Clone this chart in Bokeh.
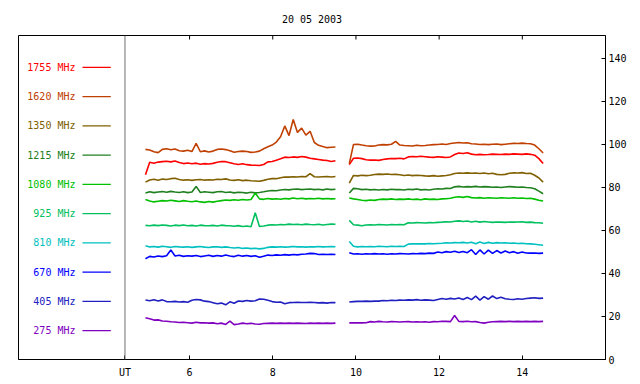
import numpy as np
from bokeh.plotting import figure
from bokeh.models import Range1d, FixedTicker, Span
from bokeh.core.properties import value
from bokeh.embed import file_html
from bokeh.resources import INLINE

title_text = "20 05 2003"
channels = ["1755 MHz", "1620 MHz", "1350 MHz", "1215 MHz", "1080 MHz",
            "925 MHz", "810 MHz", "670 MHz", "405 MHz", "275 MHz"]
colors = ["#ff0000", "#c04000", "#806000", "#208020", "#00c000",
          "#00c060", "#00c0c0", "#0000ff", "#2020c0", "#8000c0"]

# sample times (UT hours) of the two recording blocks
t_a = np.linspace(4.94, 9.507, 46)
t_b = np.linspace(9.84, 14.5, 47)

x_ticks = [6, 8, 10, 12, 14]
y_ticks = [0, 20, 40, 60, 80, 100, 120, 140]
ut_mark = 4.447

f1755_a = [85.8, 91.6, 91.2, 91.7, 91.9, 92.1, 91.8, 92.2, 91.5, 91.0, 91.3, 90.9, 91.2, 90.7, 91.0, 90.8,
           91.1, 91.6, 92.0, 91.9, 91.4, 90.9, 90.6, 90.9, 90.5, 90.3, 90.2, 90.1, 90.6, 91.8, 92.0, 92.6,
           93.2, 94.0, 93.8, 94.1, 93.9, 94.3, 94.0, 93.5, 93.2, 92.9, 92.6, 92.4, 92.0, 92.3]
f1755_b = [90.5, 93.5, 93.6, 93.3, 92.8, 92.6, 92.7, 92.5, 92.9, 93.2, 93.4, 93.3, 93.5, 93.2, 94.1, 94.3,
           94.2, 94.4, 94.2, 94.0, 93.9, 94.2, 94.0, 93.8, 94.1, 95.2, 95.9, 95.7, 96.0, 95.4, 95.1, 95.3,
           95.1, 95.2, 95.4, 95.3, 95.2, 95.4, 95.3, 95.5, 95.4, 95.3, 95.5, 95.3, 94.9, 93.3, 91.0]
f1620_a = [97.6, 97.3, 96.5, 96.1, 97.6, 97.9, 97.4, 97.8, 97.0, 96.8, 97.2, 96.6, 100.4, 96.5, 96.9, 96.4,
           96.8, 97.6, 97.8, 97.5, 97.0, 96.3, 96.6, 96.8, 96.6, 96.2, 96.4, 96.8, 97.9, 98.8, 99.6, 101.0,
           103.5, 108.5, 104.0, 111.5, 105.5, 107.5, 104.2, 106.0, 100.8, 99.5, 98.9, 98.4, 98.6, 98.7]
f1620_b = [91.0, 99.9, 100.0, 99.6, 99.3, 99.1, 99.2, 99.6, 99.8, 99.7, 100.0, 101.3, 99.6, 99.4, 99.3, 99.2,
           99.5, 99.3, 99.4, 99.6, 99.8, 99.9, 100.1, 99.9, 100.3, 100.6, 100.8, 100.6, 100.7, 100.2, 100.1, 99.9,
           100.0, 99.8, 100.0, 100.1, 99.8, 100.0, 100.2, 100.4, 100.3, 100.5, 100.3, 100.2, 99.6, 97.9, 95.9]
f1350_a = [82.4, 83.4, 83.7, 83.3, 83.8, 83.6, 84.0, 84.2, 83.6, 83.3, 83.5, 83.2, 83.5, 83.6, 83.3, 83.5,
           83.4, 83.7, 83.6, 83.9, 83.4, 83.2, 83.5, 83.1, 83.3, 83.0, 82.9, 82.8, 83.2, 83.7, 84.0, 84.0,
           84.4, 84.8, 84.7, 84.9, 84.8, 85.0, 84.9, 86.3, 84.9, 84.8, 84.9, 85.0, 84.8, 85.0]
f1350_b = [81.9, 85.5, 85.3, 85.6, 85.4, 85.6, 85.9, 86.1, 86.0, 86.2, 85.9, 86.0, 85.8, 85.5, 85.7, 85.4,
           85.6, 85.5, 85.3, 85.2, 85.4, 85.1, 85.3, 85.5, 85.8, 86.4, 86.6, 86.5, 86.7, 86.5, 86.6, 86.4,
           86.6, 86.3, 86.5, 86.0, 85.8, 86.0, 86.5, 86.7, 86.6, 86.8, 86.4, 86.5, 85.6, 84.3, 82.4]
f1215_a = [77.3, 77.9, 77.5, 77.8, 78.0, 77.7, 78.1, 77.8, 77.6, 77.9, 77.5, 77.8, 80.4, 77.6, 77.9, 77.7,
           77.5, 77.9, 78.0, 77.6, 77.8, 77.4, 77.7, 77.6, 77.3, 77.7, 77.4, 77.6, 77.9, 78.3, 78.5, 78.4,
           78.7, 79.0, 78.8, 79.1, 79.2, 78.9, 79.1, 79.2, 78.9, 79.1, 78.8, 79.2, 78.9, 79.1]
f1215_b = [77.3, 79.5, 79.3, 78.9, 79.1, 78.8, 79.0, 78.7, 79.0, 78.8, 79.1, 78.9, 79.0, 78.7, 79.1, 78.9,
           79.2, 78.8, 79.0, 78.7, 79.1, 79.3, 79.2, 79.5, 79.4, 80.2, 80.4, 80.1, 80.3, 80.2, 80.4, 80.1,
           80.3, 80.2, 80.0, 80.1, 79.9, 80.1, 80.3, 80.2, 80.0, 80.1, 79.9, 79.8, 79.3, 78.2, 77.0]
f1080_a = [74.3, 73.6, 73.2, 73.5, 73.8, 73.6, 74.0, 73.7, 73.4, 73.8, 73.5, 73.3, 73.6, 73.2, 73.0, 73.4,
           73.1, 73.5, 73.8, 74.1, 73.9, 74.2, 74.0, 74.3, 74.1, 74.3, 77.3, 74.6, 74.4, 74.8, 74.5, 74.7,
           74.4, 74.8, 74.6, 75.0, 74.7, 74.9, 74.6, 74.8, 74.7, 74.9, 74.6, 74.8, 74.6, 74.7]
f1080_b = [75.0, 74.6, 74.3, 74.0, 73.8, 74.1, 73.9, 74.3, 74.5, 74.4, 74.6, 74.3, 74.5, 74.4, 74.6, 74.3,
           74.5, 74.2, 74.6, 74.4, 74.5, 74.3, 74.6, 74.7, 74.9, 75.4, 75.6, 75.3, 75.7, 75.2, 75.0, 75.2,
           74.9, 75.1, 75.0, 74.9, 75.1, 75.0, 74.9, 75.1, 74.9, 75.0, 74.8, 74.9, 74.5, 74.0, 73.6]
f925_a = [62.3, 62.1, 62.4, 62.2, 62.5, 62.3, 62.0, 62.4, 62.2, 62.5, 62.1, 62.3, 62.0, 62.4, 62.2, 62.1,
          62.3, 62.0, 62.4, 62.2, 62.1, 61.9, 62.2, 61.8, 62.0, 61.7, 68.2, 61.8, 62.0, 62.4, 62.6, 62.5,
          62.7, 62.6, 62.9, 62.7, 62.8, 62.6, 62.9, 62.7, 62.6, 62.8, 62.5, 62.7, 62.9, 62.8]
f925_b = [64.6, 62.6, 62.4, 62.1, 62.5, 62.6, 62.5, 62.7, 62.6, 62.5, 62.7, 62.6, 62.7, 62.6, 63.5, 63.4,
          63.6, 63.5, 63.4, 63.6, 63.5, 63.7, 63.8, 64.0, 63.9, 64.2, 64.4, 64.1, 64.3, 63.9, 64.2, 63.8,
          64.1, 63.9, 63.7, 63.9, 63.8, 63.7, 63.9, 63.8, 63.9, 64.0, 63.7, 63.8, 63.6, 63.5, 63.3]
f810_a = [52.8, 52.3, 52.5, 52.2, 52.6, 52.4, 52.1, 52.5, 52.3, 52.2, 52.4, 52.1, 52.3, 52.5, 52.2, 52.0,
          52.3, 52.4, 52.1, 52.3, 52.0, 51.8, 52.0, 51.6, 51.8, 51.5, 51.7, 51.4, 51.6, 52.1, 52.3, 52.2,
          52.4, 52.2, 52.3, 52.5, 52.3, 52.4, 52.2, 52.4, 52.3, 52.5, 52.3, 52.4, 52.5, 52.4]
f810_b = [54.8, 52.6, 52.3, 52.5, 52.4, 52.5, 52.4, 52.6, 52.5, 52.4, 52.6, 52.5, 52.6, 52.5, 53.6, 53.8,
          53.7, 53.8, 53.7, 53.9, 53.8, 53.9, 54.0, 54.2, 54.1, 54.3, 54.2, 54.4, 54.1, 54.5, 53.8, 54.6,
          53.9, 54.4, 54.0, 54.3, 54.1, 54.2, 54.0, 54.1, 53.9, 54.0, 53.8, 53.7, 53.5, 53.3, 53.1]
f670_a = [46.8, 47.9, 47.6, 48.1, 47.8, 48.2, 50.9, 48.1, 48.4, 47.9, 48.2, 48.0, 48.3, 47.8, 48.1, 48.4,
          47.9, 48.3, 48.0, 48.5, 48.1, 47.8, 48.4, 48.0, 48.3, 47.9, 48.2, 47.5, 48.0, 48.5, 48.3, 48.6,
          48.4, 48.7, 48.5, 48.8, 48.6, 48.9, 49.0, 49.3, 49.2, 48.8, 48.9, 48.8, 48.9, 48.8]
f670_b = [49.6, 49.0, 49.1, 48.9, 49.1, 49.0, 49.2, 49.0, 49.1, 48.9, 49.1, 49.0, 49.2, 49.1, 49.0, 49.2,
          49.1, 49.3, 49.2, 49.4, 49.3, 49.9, 49.6, 50.1, 49.8, 50.3, 49.7, 50.2, 49.6, 51.0, 48.8, 50.9,
          49.0, 50.8, 49.3, 50.6, 49.5, 50.4, 49.6, 50.1, 49.4, 49.9, 49.5, 49.4, 49.5, 49.3, 49.4]
f405_a = [27.6, 27.3, 27.8, 27.2, 27.7, 26.9, 26.8, 27.0, 26.7, 26.9, 26.6, 27.5, 27.9, 27.7, 27.1, 26.9,
          26.4, 25.9, 26.2, 25.4, 26.8, 26.1, 27.2, 27.0, 27.4, 27.1, 27.3, 28.1, 28.0, 27.5, 26.9, 26.6,
          26.7, 25.9, 26.4, 26.5, 26.6, 26.5, 26.5, 26.6, 26.5, 26.3, 26.4, 26.2, 26.5, 26.4]
f405_b = [26.7, 26.9, 27.0, 27.0, 27.1, 27.0, 27.1, 27.1, 27.4, 27.3, 27.5, 27.4, 27.6, 27.5, 27.7, 27.6,
          27.8, 27.5, 27.7, 27.6, 27.4, 27.9, 28.3, 28.0, 28.4, 28.1, 28.6, 27.9, 28.8, 27.8, 29.4, 27.6,
          29.2, 28.0, 29.5, 28.3, 28.9, 28.2, 28.0, 27.9, 28.2, 28.0, 28.3, 28.5, 28.7, 28.4, 28.5]
f275_a = [19.4, 18.9, 18.3, 18.4, 17.9, 17.8, 17.5, 17.4, 17.2, 17.3, 17.1, 16.9, 17.3, 17.0, 17.1, 16.9,
          17.0, 16.6, 16.9, 16.3, 17.8, 16.2, 16.5, 16.9, 16.6, 16.8, 16.5, 16.4, 16.7, 16.8, 16.9, 16.8,
          16.9, 16.8, 16.9, 16.8, 16.9, 16.8, 16.7, 16.9, 16.8, 16.9, 16.8, 16.9, 16.8, 16.9]
f275_b = [17.0, 17.0, 17.0, 17.0, 17.1, 17.6, 17.4, 17.7, 17.5, 17.4, 17.6, 17.5, 17.4, 17.5, 17.6, 17.4,
          17.5, 17.4, 17.5, 17.3, 17.6, 17.5, 17.8, 17.7, 17.6, 20.4, 17.7, 17.6, 17.8, 17.5, 17.6, 17.2,
          16.9, 17.3, 17.5, 17.6, 17.7, 17.6, 17.7, 17.6, 17.7, 17.6, 17.7, 17.6, 17.7, 17.6, 17.7]

series_a = [f1755_a, f1620_a, f1350_a, f1215_a, f1080_a, f925_a, f810_a, f670_a, f405_a, f275_a]
series_b = [f1755_b, f1620_b, f1350_b, f1215_b, f1080_b, f925_b, f810_b, f670_b, f405_b, f275_b]

FONT = "DejaVu Sans Mono"
Y_MAX = 150.5

p = figure(width=636, height=380, x_range=Range1d(1.887, 16.0), y_range=Range1d(0, Y_MAX),
           output_backend="svg", toolbar_location=None, y_axis_location="right",
           min_border_left=18, min_border_right=31, min_border_top=35, min_border_bottom=21,
           title=title_text)
p.title.align = "center"
p.title.text_font = FONT
p.title.text_font_size = "10px"
p.title.text_font_style = "normal"
p.title.text_color = "black"
p.title.standoff = 22
p.grid.visible = False
p.outline_line_color = "black"
p.outline_line_width = 1
p.outline_line_alpha = 1
p.background_fill_color = "white"
p.border_fill_color = "white"

xa = p.xaxis[0]
xa.ticker = FixedTicker(ticks=[ut_mark] + x_ticks)
xa.major_label_overrides = {ut_mark: "UT"}
ya = p.yaxis[0]
ya.ticker = FixedTicker(ticks=y_ticks)
for ax in (xa, ya):
    ax.axis_line_color = "black"
    ax.major_tick_in = 4
    ax.major_tick_out = 0
    ax.major_tick_line_color = "black"
    ax.minor_tick_line_color = None
    ax.major_label_text_font = FONT
    ax.major_label_text_font_size = "10px"
    ax.major_label_text_color = "black"
xa.major_label_standoff = 7
ya.major_label_standoff = 3

p.add_layout(Span(location=ut_mark, dimension="height", line_color="#707070", line_width=1))

# tick marks on the top edge, at the same hours as the bottom axis
tick_len = 4 * Y_MAX / 324.0
p.segment(x0=x_ticks, x1=x_ticks, y0=[Y_MAX] * len(x_ticks), y1=[Y_MAX - tick_len] * len(x_ticks),
          line_color="black", line_width=1)

# legend (label + sample line), stacked top to bottom in data units
leg_y = [135.7 - 13.59 * i for i in range(len(channels))]
p.text(x=[3.257] * len(channels), y=leg_y, text=channels, text_color=colors,
       text_align="right", text_baseline="middle", text_font=value(FONT),
       text_font_size=value("10px"))
p.segment(x0=[3.425] * len(channels), x1=[4.106] * len(channels), y0=leg_y, y1=leg_y,
          line_color=colors, line_width=1.2)

for ya_vals, yb_vals, c in zip(series_a, series_b, colors):
    p.line(t_a, ya_vals, line_color=c, line_width=1.6)
    p.line(t_b, yb_vals, line_color=c, line_width=1.6)

open("out.html", "w").write(file_html(p, INLINE))
